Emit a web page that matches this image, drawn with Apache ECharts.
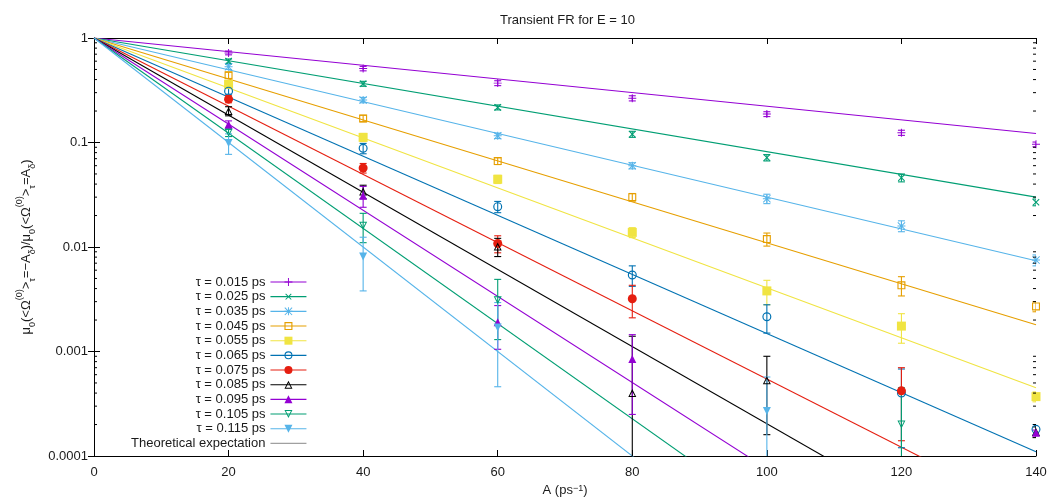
<!DOCTYPE html>
<html><head><meta charset="utf-8">
<script src="https://cdn.jsdelivr.net/npm/echarts@6/dist/echarts.min.js"></script>
<style>html,body{margin:0;padding:0;background:#fff}#c{width:1064px;height:503px}</style>
</head><body><div id="c"></div>
<script>
// ---------------- data ----------------
const xValues = [20, 40, 60, 80, 100, 120, 140];
const tauLabels = ['τ = 0.015 ps','τ = 0.025 ps','τ = 0.035 ps','τ = 0.045 ps','τ = 0.055 ps','τ = 0.065 ps','τ = 0.075 ps','τ = 0.085 ps','τ = 0.095 ps','τ = 0.105 ps','τ = 0.115 ps'];
const theoryLabel = 'Theoretical expectation';
// measured values at xValues (null = not shown)
const val015 = [0.72, 0.51, 0.37, 0.265, 0.187, 0.124, 0.096];
const val025 = [0.60, 0.365, 0.217, 0.12, 0.0716, 0.046, 0.0268];
const val035 = [0.53, 0.255, 0.116, 0.060, 0.029, 0.0159, 0.0075];
const val045 = [0.44, 0.17, 0.0665, 0.030, 0.0119, 0.0043, 0.0027];
const val055 = [0.36, 0.112, 0.0445, 0.0138, 0.0038, 0.00175, 0.00037];
const val065 = [0.31, 0.088, 0.0243, 0.0054, 0.00215, 0.0004, 0.00018];
const val075 = [0.26, 0.057, 0.0108, 0.0032, null, 0.00042, null];
const val085 = [0.20, 0.034, 0.0101, 0.0004, 0.00053, null, 0.00017];
const val095 = [0.149, 0.031, 0.0019, 0.00085, null, null, 0.000167];
const val105 = [0.124, 0.016, 0.0031, null, null, 0.0002, null];
const val115 = [0.099, 0.0081, 0.0017, null, 0.00027, null, null];
// error bar half-widths
const err015 = [0.03, 0.025, 0.02, 0.015, 0.01, 0.007, 0.005];
const err025 = [0.03, 0.02, 0.012, 0.008, 0.005, 0.004, 0.002];
const err035 = [0.03, 0.015, 0.007, 0.004, 0.003, 0.0019, 0.0009];
const err045 = [0.03, 0.012, 0.005, 0.0025, 0.0017, 0.0009, 0.0003];
const err055 = [0.03, 0.01, 0.004, 0.0015, 0.001, 0.00055, 0.00004];
const err065 = [0.02, 0.01, 0.003, 0.0012, 0.00065, 0.00028, 0.00002];
const err075 = [0.02, 0.006, 0.002, 0.0011, null, 0.00028, null];
const err085 = [0.02, 0.005, 0.002, 0.001, 0.00037, null, 0.00002];
const err095 = [0.012, 0.007, 0.00085, 0.0006, null, null, 0.00001];
const err105 = [0.01, 0.005, 0.0018, null, null, 0.00025, null];
const err115 = [0.022, 0.0043, 0.00124, null, 0.0003, null, null];
// theoretical line: value at A=0 and at A=140
const theoryStart = [1, 1, 1, 1, 1, 1, 1, 1, 1, 1, 1];
const theoryEnd = [0.122, 0.030, 0.0074, 0.0018, 0.00045, 0.00011, 0.000027, 0.0000068, 0.0000017, 0.00000042, 0.0000001];
const xTickLabels = ['0','20','40','60','80','100','120','140'];
const yTickLabels = ['0.0001','0.001','0.01','0.1','1'];
const minorTickValues = [0.0002,0.0003,0.0004,0.0005,0.0006,0.0007,0.0008,0.0009,
  0.002,0.003,0.004,0.005,0.006,0.007,0.008,0.009,
  0.02,0.03,0.04,0.05,0.06,0.07,0.08,0.09,
  0.2,0.3,0.4,0.5,0.6,0.7,0.8,0.9];

const allValues = [val015,val025,val035,val045,val055,val065,val075,val085,val095,val105,val115];
const allErrors = [err015,err025,err035,err045,err055,err065,err075,err085,err095,err105,err115];

// ---------------- styles ----------------
const colors = ['#9400d3','#009e73','#56b4e9','#e69f00','#f0e442','#0072b2','#e51e10','#000000','#9400d3','#009e73','#56b4e9'];
const PLUS = 'path://M4.4,0H5.6V10H4.4Z M0,4.4H10V5.6H0Z';
const STAR = 'path://M4.4,0H5.6V10H4.4Z M0,4.4H10V5.6H0Z M0,0.85L0.85,0L10,9.15L9.15,10Z M9.15,0L10,0.85L0.85,10L0,9.15Z';
const ORECT = 'path://M0,0H10V10H0Z M1.4,1.4V8.6H8.6V1.4Z';
const OCIRC = 'path://M5,0A5,5 0 1,1 5,10A5,5 0 1,1 5,0Z M5,1.3A3.7,3.7 0 1,0 5,8.7A3.7,3.7 0 1,0 5,1.3Z';
const OTRI = 'path://M5,0L10,9L0,9Z M5,2.6L1.9,7.9L8.1,7.9Z';
const OTRID = 'path://M0,0L10,0L5,9Z M1.9,1.1L5,6.4L8.1,1.1Z';
const symbols = [
  {s: PLUS, r: 0, size: 8},
  {s: PLUS, r: 45, size: 9},
  {s: STAR, r: 0, size: 8},
  {s: ORECT, r: 0, size: 8},
  {s: 'rect', r: 0, size: 9},
  {s: OCIRC, r: 0, size: 9},
  {s: 'circle', r: 0, size: 9},
  {s: OTRI, r: 0, size: 8},
  {s: 'triangle', r: 0, size: 8},
  {s: OTRID, r: 0, size: 8},
  {s: 'triangle', r: 180, size: 8}
];
const FONT = 'Liberation Sans';
const TXT = '#1a1a1a';

function errRender(color) {
  return function (params, api) {
    const x = api.value(0), y = api.value(1), d = api.value(2);
    const cs = params.coordSys;
    const bottom = cs.y + cs.height;
    const hiP = api.coord([x, y + d]);
    let lowY = bottom, capLow = false;
    if (y - d > 0) {
      const lp = api.coord([x, y - d]);
      if (lp[1] < bottom) { lowY = lp[1]; capLow = true; }
    }
    const px = hiP[0], h = 3.5;
    const st = {stroke: color, lineWidth: 1.1};
    const ch = [
      {type: 'line', shape: {x1: px, y1: hiP[1], x2: px, y2: lowY}, style: st},
      {type: 'line', shape: {x1: px - h, y1: hiP[1], x2: px + h, y2: hiP[1]}, style: st}
    ];
    if (capLow) ch.push({type: 'line', shape: {x1: px - h, y1: lowY, x2: px + h, y2: lowY}, style: st});
    return {type: 'group', children: ch};
  };
}

const series = [];
// theory lines
theoryEnd.forEach((e, i) => {
  series.push({
    type: 'line', name: 'theory' + i, silent: true, symbol: 'none', z: 1,
    data: [[0, theoryStart[i]], [140, e]],
    lineStyle: {color: colors[i], width: 1.1}, clip: true
  });
});
// measured points + error bars
allValues.forEach((vals, i) => {
  const pts = [], errs = [];
  vals.forEach((v, k) => {
    if (v !== null) { pts.push([xValues[k], v]); errs.push([xValues[k], v, allErrors[i][k]]); }
  });
  series.push({
    type: 'custom', name: 'err' + i, silent: true, z: 2, clip: true,
    renderItem: errRender(colors[i]), data: errs
  });
  const sy = symbols[i];
  series.push({
    type: 'line', name: tauLabels[i], data: pts, z: 3,
    symbol: sy.s, symbolRotate: sy.r, symbolSize: sy.size, showSymbol: true,
    lineStyle: {opacity: 0, width: 1.1, color: colors[i]},
    itemStyle: {color: colors[i], borderWidth: 0},
    silent: true
  });
});
// legend-only theory entry
series.push({type: 'line', name: theoryLabel, data: [], symbol: 'none', lineStyle: {color: '#a0a0a0', width: 1.1}});
// minor ticks on log axis (left and right edges)
series.push({
  type: 'custom', name: 'minorTicks', silent: true, z: 5,
  data: minorTickValues.map(v => [0, v]),
  renderItem: function (params, api) {
    const v = api.value(1);
    const pl = api.coord([0, v]), pr = api.coord([140, v]);
    const st = {stroke: '#000', lineWidth: 1};
    return {type: 'group', children: [
      {type: 'line', shape: {x1: pl[0], y1: pl[1], x2: pl[0] + 3, y2: pl[1]}, style: st},
      {type: 'line', shape: {x1: pr[0], y1: pr[1], x2: pr[0] - 3, y2: pr[1]}, style: st}
    ]};
  }
});

const axisLine = {show: true, lineStyle: {color: '#000', width: 1}};
const legendData = tauLabels.map(n => ({name: n}));
legendData.push({name: theoryLabel, itemStyle: {opacity: 0}});
const option = {
  animation: false,
  backgroundColor: '#fff',
  title: {
    text: 'Transient FR for E = 10', left: 495, top: 9,
    textStyle: {fontFamily: FONT, fontSize: 13, fontWeight: 'normal', color: TXT}
  },
  grid: {left: 94, right: 28, top: 38, bottom: 47, containLabel: false},
  legend: {
    orient: 'vertical', right: 757, top: 275, padding: 0,
    align: 'right', itemWidth: 36, itemHeight: 10, itemGap: 0.67,
    selectedMode: false,
    data: legendData,
    textStyle: {fontFamily: FONT, fontSize: 13, color: TXT, lineHeight: 14},
    lineStyle: {opacity: 1, width: 1.1}
  },
  xAxis: [{
    type: 'value', min: 0, max: 140, interval: 20,
    name: 'A (ps{s|−1})', nameLocation: 'middle', nameGap: 27,
    nameTextStyle: {fontFamily: FONT, fontSize: 13, color: TXT,
      rich: {s: {fontFamily: FONT, fontSize: 9, color: TXT, verticalAlign: 'top', lineHeight: 9}}},
    axisLine: axisLine, splitLine: {show: false},
    axisTick: {inside: true, length: 6, lineStyle: {color: '#000'}},
    axisLabel: {margin: 10, fontFamily: FONT, fontSize: 13, color: TXT,
      formatter: v => xTickLabels[Math.round(v / 20)]}
  }, {
    type: 'value', min: 0, max: 140, interval: 20, position: 'top',
    axisLine: axisLine, splitLine: {show: false},
    axisTick: {inside: true, length: 6, lineStyle: {color: '#000'}},
    axisLabel: {show: false}
  }],
  yAxis: [{
    type: 'log', logBase: 10, min: 0.0001, max: 1,
    name: '{a|μ}{b|0}{a|(<Ω}{c|(0)}{a|>}{b|τ}{a|=−A}{b|δ}{a|)/μ}{b|0}{a|(<Ω}{c|(0)}{a|>}{b|τ}{a|=A}{b|δ}{a|)}',
    nameLocation: 'middle', nameRotate: 90, nameGap: 56,
    nameTextStyle: {fontFamily: FONT, fontSize: 13, color: TXT,
      rich: {
        a: {fontFamily: FONT, fontSize: 13, color: TXT, lineHeight: 22, verticalAlign: 'middle'},
        b: {fontFamily: FONT, fontSize: 9, color: TXT, lineHeight: 9, verticalAlign: 'bottom'},
        c: {fontFamily: FONT, fontSize: 9, color: TXT, lineHeight: 9, verticalAlign: 'top'}
      }},
    axisLine: axisLine, splitLine: {show: false},
    axisTick: {inside: true, length: 6, lineStyle: {color: '#000'}},
    axisLabel: {margin: 6, fontFamily: FONT, fontSize: 13, color: TXT,
      formatter: v => yTickLabels[Math.round(Math.log10(v)) + 4]}
  }, {
    type: 'log', logBase: 10, min: 0.0001, max: 1, position: 'right',
    axisLine: axisLine, splitLine: {show: false},
    axisTick: {inside: true, length: 6, lineStyle: {color: '#000'}},
    axisLabel: {show: false}
  }],
  series: series
};
const chart = echarts.init(document.getElementById('c'), null, {renderer: 'canvas'});
chart.setOption(option);
</script></body></html>
